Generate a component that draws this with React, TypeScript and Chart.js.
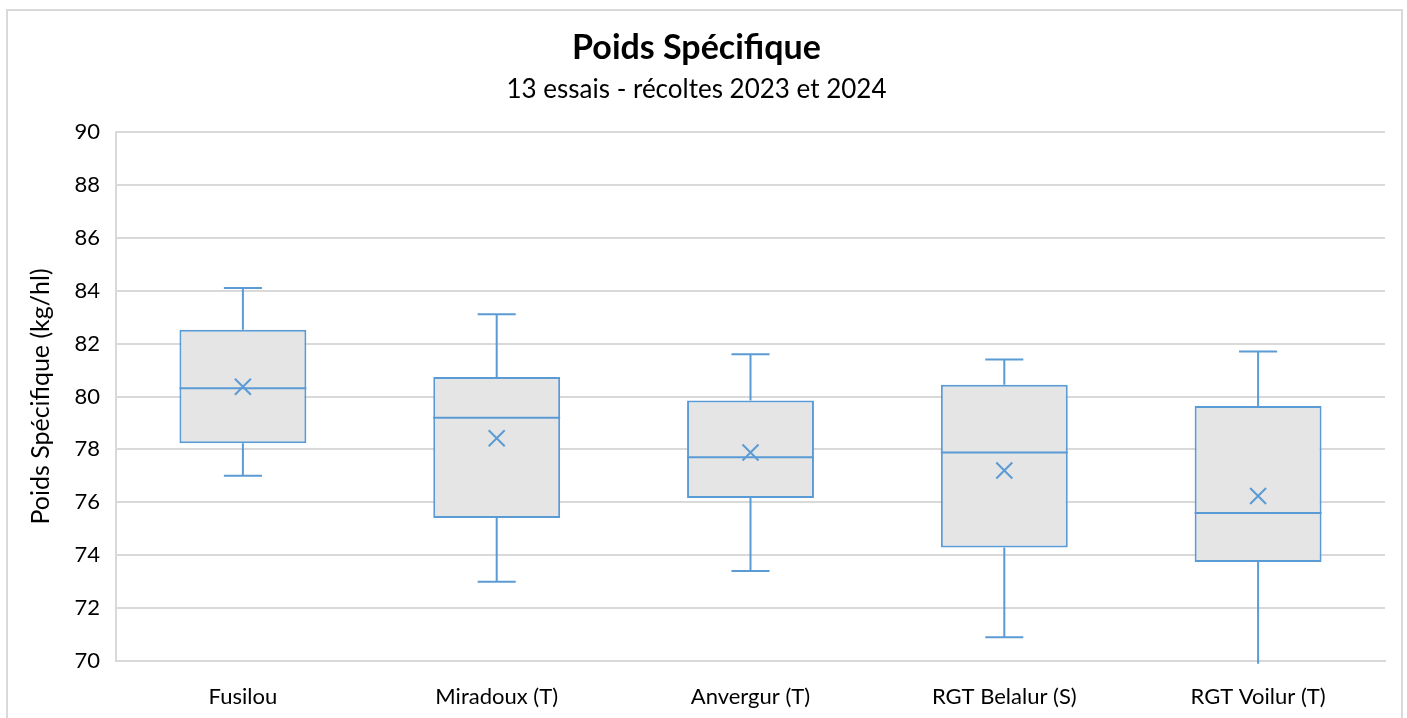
import React, { useEffect, useRef } from "react";
import { Chart, registerables } from "chart.js";

Chart.register(...registerables);

const categories = ["Fusilou", "Miradoux (T)", "Anvergur (T)", "RGT Belalur (S)", "RGT Voilur (T)"];
const minValues = [77.0, 73.0, 73.4, 70.9, 69.9];
const q1Values = [78.23, 75.41, 76.16, 74.29, 73.74];
const medianValues = [80.31, 79.2, 77.7, 77.88, 75.6];
const q3Values = [82.52, 80.74, 79.85, 80.44, 79.64];
const maxValues = [84.1, 83.11, 81.6, 81.4, 81.7];
const meanValues = [80.37, 78.42, 77.88, 77.2, 76.24];
const yTicks = [70, 72, 74, 76, 78, 80, 82, 84, 86, 88, 90];

const BLUE = "#5b9bd5";
const FILL = "#e5e5e5";
const GRID = "#d9d9d9";
const TEXT = "#000000";
const FONT = "Lato, 'Noto Sans', sans-serif";

const boxPlugin = {
  id: "boxWhiskers",
  afterDatasetsDraw(chart: any) {
    const { ctx, scales } = chart;
    const x = scales.x;
    const y = scales.y;
    const meta = chart.getDatasetMeta(0);
    ctx.save();
    ctx.strokeStyle = BLUE;
    ctx.lineWidth = 2;
    ctx.lineCap = "butt";
    categories.forEach((_, i) => {
      const bar = meta.data[i] as any;
      const cx = x.getPixelForValue(i);
      const half = bar.width / 2;
      const capHalf = bar.width * 0.15;
      const yMin = y.getPixelForValue(minValues[i]);
      const yQ1 = y.getPixelForValue(q1Values[i]);
      const yMed = y.getPixelForValue(medianValues[i]);
      const yQ3 = y.getPixelForValue(q3Values[i]);
      const yMax = y.getPixelForValue(maxValues[i]);
      const yMean = y.getPixelForValue(meanValues[i]);
      ctx.beginPath();
      ctx.moveTo(cx, yQ3);
      ctx.lineTo(cx, yMax);
      ctx.moveTo(cx - capHalf, yMax);
      ctx.lineTo(cx + capHalf, yMax);
      ctx.moveTo(cx, yQ1);
      ctx.lineTo(cx, yMin);
      if (minValues[i] >= y.min) {
        ctx.moveTo(cx - capHalf, yMin);
        ctx.lineTo(cx + capHalf, yMin);
      }
      ctx.moveTo(cx - half, yMed);
      ctx.lineTo(cx + half, yMed);
      ctx.stroke();
      const m = 8;
      ctx.beginPath();
      ctx.moveTo(cx - m, yMean - m);
      ctx.lineTo(cx + m, yMean + m);
      ctx.moveTo(cx + m, yMean - m);
      ctx.lineTo(cx - m, yMean + m);
      ctx.stroke();
    });
    ctx.restore();
  },
};

export default function App() {
  const canvasRef = useRef<HTMLCanvasElement | null>(null);

  useEffect(() => {
    if (!canvasRef.current) return;
    const chart = new Chart(canvasRef.current, {
      type: "bar",
      data: {
        labels: categories,
        datasets: [
          {
            data: categories.map((_, i) => [q1Values[i], q3Values[i]]) as any,
            backgroundColor: FILL,
            borderColor: BLUE,
            borderWidth: 2,
            borderSkipped: false,
            barPercentage: 0.5,
            categoryPercentage: 1.0,
          },
        ],
      },
      options: {
        responsive: false,
        animation: false,
        layout: { padding: { left: 0, right: 16, top: 0, bottom: 0 } },
        plugins: {
          legend: { display: false },
          tooltip: { enabled: false },
          title: {
            display: true,
            text: "Poids Spécifique",
            color: TEXT,
            font: { family: FONT, size: 34, weight: "bold", lineHeight: 1.2 },
            padding: { top: 17, bottom: 0 },
          },
          subtitle: {
            display: true,
            text: "13 essais - récoltes 2023 et 2024",
            color: TEXT,
            font: { family: FONT, size: 26, lineHeight: 1.2 },
            padding: { top: 5.6, bottom: 26.4 },
          },
        },
        scales: {
          x: {
            grid: { display: false, drawTicks: false },
            border: { display: true, color: GRID, width: 2 },
            ticks: { color: TEXT, font: { family: FONT, size: 22 }, padding: 23 },
            afterFit: (scale: any) => {
              scale.height = 57;
            },
          },
          y: {
            min: 70,
            max: 90,
            grid: { color: GRID, lineWidth: 2, drawTicks: false },
            border: { display: true, color: GRID, width: 2 },
            ticks: {
              color: TEXT,
              font: { family: FONT, size: 22 },
              padding: 16,
              stepSize: 2,
              callback: (v: any) => (yTicks.includes(Number(v)) ? String(v) : ""),
            },
            title: {
              display: true,
              text: "Poids Spécifique (kg/hl)",
              color: TEXT,
              font: { family: FONT, size: 25, lineHeight: 1.2 },
              padding: { top: 18, bottom: 0 },
            },
            afterFit: (scale: any) => {
              scale.width = 108;
            },
          },
        },
      },
      plugins: [boxPlugin],
    });
    return () => chart.destroy();
  }, []);

  return (
    <div
      style={{
        position: "absolute",
        left: 6,
        top: 9,
        width: 1397,
        height: 730,
        border: "2px solid #d9d9d9",
        boxSizing: "border-box",
        background: "#fff",
      }}
    >
      <canvas ref={canvasRef} width={1393} height={707} style={{ display: "block" }} />
    </div>
  );
}
